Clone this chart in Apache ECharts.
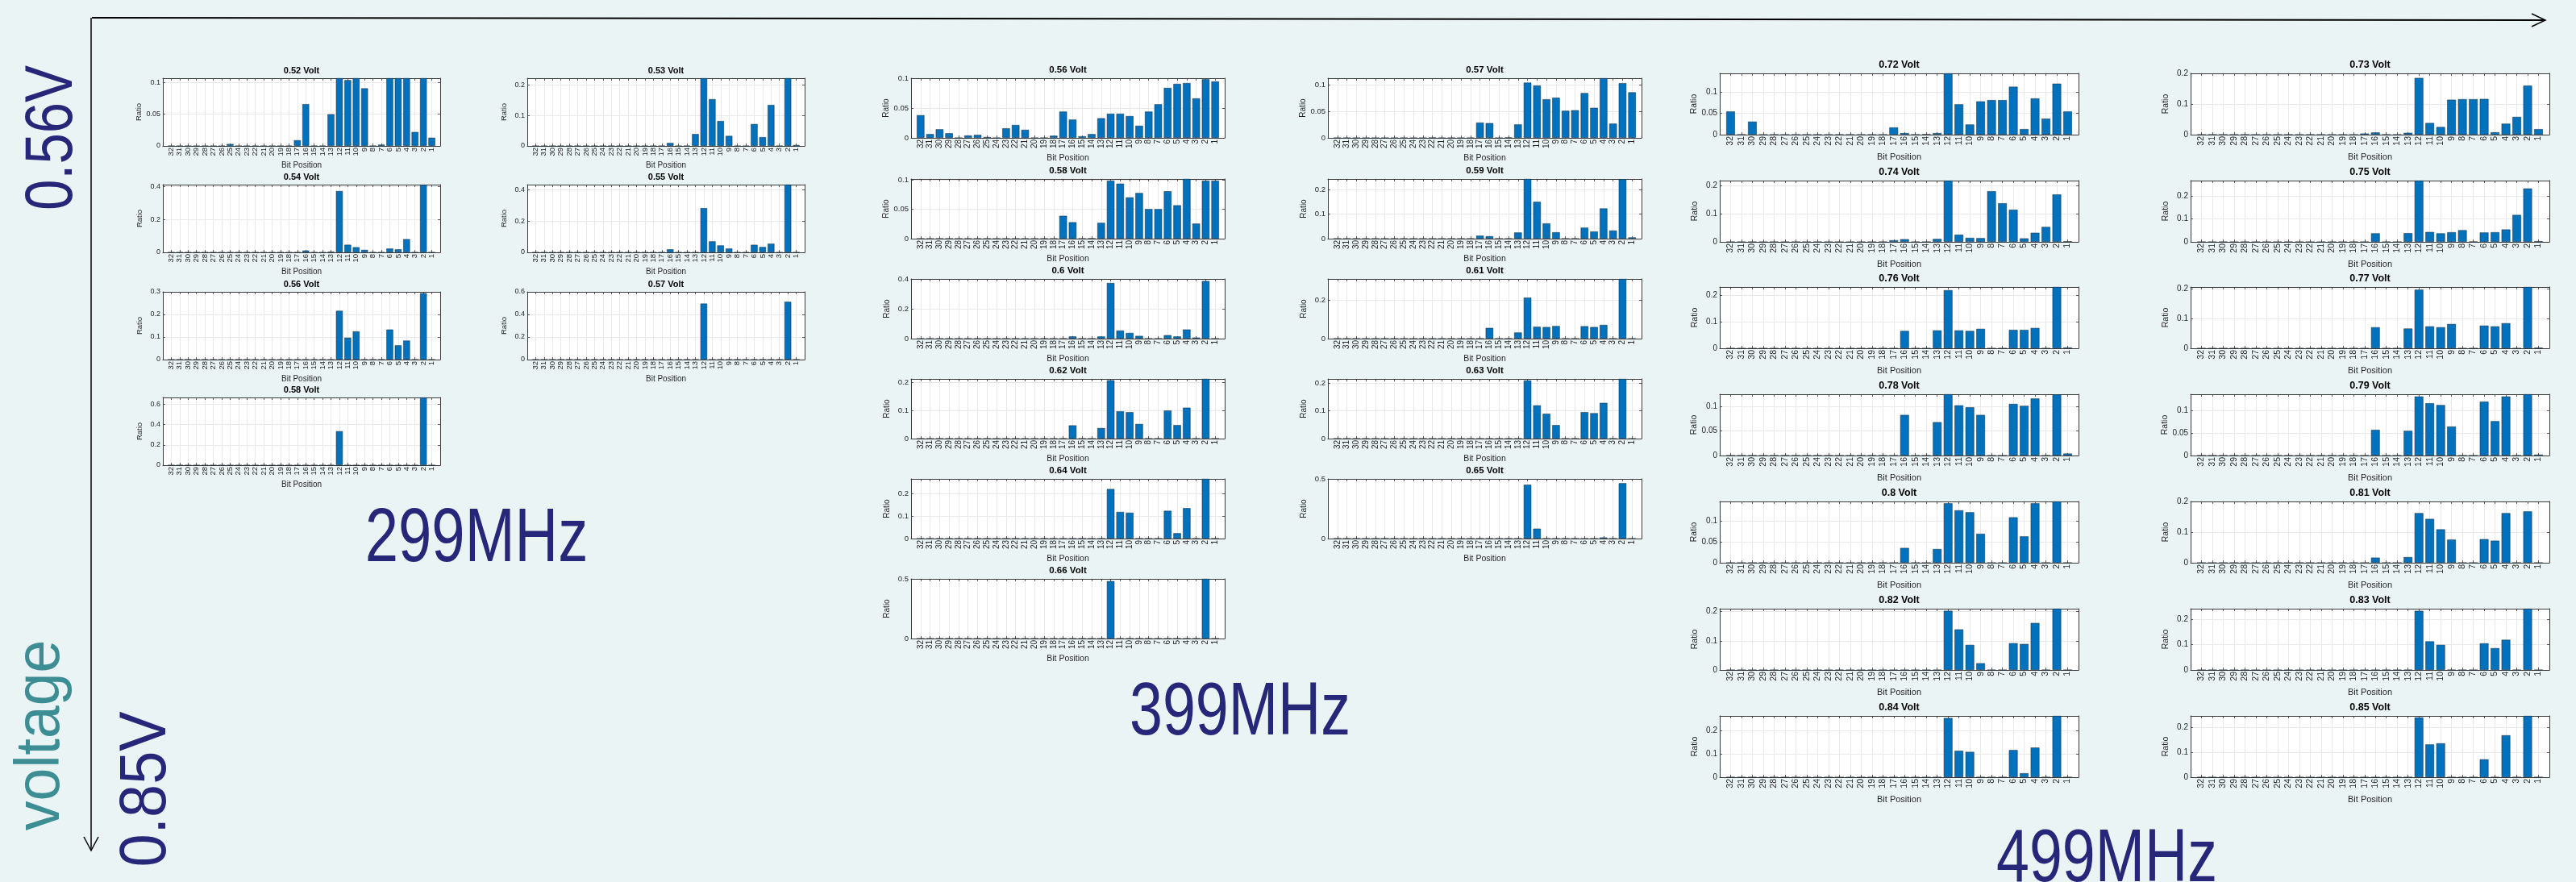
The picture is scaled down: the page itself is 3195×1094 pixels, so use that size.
<!DOCTYPE html>
<html>
<head>
<meta charset="utf-8">
<title>Bit error distribution by voltage and frequency</title>
<script src="https://cdn.jsdelivr.net/npm/echarts@6/dist/echarts.min.js"></script>
<style>
  html, body { margin: 0; padding: 0; background: #eaf4f5; }
  #chart { width: 3195px; height: 1094px; }
</style>
</head>
<body>
<div id="chart"></div>
<script>
// ---- data --------------------------------------------------------------
// x categories: bit positions, MSB (32) on the left
const bitPositions = [32,31,30,29,28,27,26,25,24,23,22,21,20,19,18,17,16,15,14,13,12,11,10,9,8,7,6,5,4,3,2,1];

// 299 MHz
const volts299 = ['0.52','0.53','0.54','0.55','0.56','0.57','0.58'];
const r299_052 = [0,0,0,0,0,0,0,0.003,0,0,0,0,0,0,0,0.009,0.066,0,0,0.05,0.107,0.104,0.107,0.091,0,0.002,0.107,0.107,0.107,0.022,0.107,0.013];
const r299_053 = [0,0,0,0,0,0,0,0,0,0,0,0,0,0,0,0,0.0097,0,0,0.039,0.223,0.154,0.082,0.033,0,0,0.072,0.029,0.135,0,0.223,0.003];
const r299_054 = [0,0,0,0,0,0,0,0,0,0,0,0,0,0,0,0,0.011,0,0,0.004,0.372,0.046,0.031,0.015,0,0,0.023,0.018,0.08,0,0.41,0];
const r299_055 = [0,0,0,0,0,0,0,0,0,0,0,0,0,0,0,0,0.019,0,0,0,0.282,0.07,0.044,0.024,0,0,0.048,0.034,0.055,0,0.432,0];
const r299_056 = [0,0,0,0,0,0,0,0,0,0,0,0,0,0,0,0,0,0,0,0,0.216,0.097,0.125,0,0,0,0.133,0.063,0.084,0,0.294,0];
const r299_057 = [0,0,0,0,0,0,0,0,0,0,0,0,0,0,0,0,0,0,0,0,0.496,0,0,0,0,0,0,0,0,0,0.512,0];
const r299_058 = [0,0,0,0,0,0,0,0,0,0,0,0,0,0,0,0,0,0,0,0,0.334,0,0,0,0,0,0,0,0,0,0.666,0];
const yMax299  = [0.107, 0.223, 0.411, 0.432, 0.3, 0.6, 0.666];
const yStep299 = [0.05, 0.1, 0.2, 0.2, 0.1, 0.2, 0.2];

// 399 MHz
const volts399 = ['0.56','0.57','0.58','0.59','0.6','0.61','0.62','0.63','0.64','0.65','0.66'];
const r399_056 = [0.038,0.0063,0.0144,0.0077,0,0.004,0.005,0.0014,0,0.016,0.0216,0.0135,0,0,0.0036,0.044,0.0306,0.0027,0.0063,0.0329,0.0405,0.0405,0.0365,0.0203,0.044,0.0563,0.0838,0.0905,0.0919,0.0662,0.0982,0.0946];
const r399_057 = [0,0,0,0,0,0,0,0,0,0,0.0006,0,0,0,0,0.0289,0.0279,0,0.0008,0.0254,0.1046,0.099,0.0731,0.0761,0.0513,0.0523,0.0848,0.0569,0.113,0.0269,0.1036,0.0863];
const r399_058 = [0,0,0,0,0,0,0,0,0,0,0,0,0,0,0,0.039,0.028,0,0.0005,0.027,0.099,0.094,0.0705,0.078,0.0505,0.0505,0.081,0.057,0.102,0.0257,0.099,0.099];
const r399_059 = [0,0,0,0,0,0,0,0,0,0,0,0,0,0,0,0.012,0.0098,0,0,0.025,0.243,0.15,0.062,0.026,0,0,0.0446,0.029,0.123,0.033,0.242,0.005];
const r399_060 = [0,0,0,0,0,0,0,0,0,0,0,0,0,0,0,0,0.0144,0,0,0.0144,0.373,0.054,0.038,0.018,0,0,0.023,0.0144,0.061,0.007,0.386,0];
const r399_061 = [0,0,0,0,0,0,0,0,0,0,0,0,0,0,0,0,0.056,0,0,0.032,0.215,0.062,0.0606,0.066,0,0,0.065,0.0606,0.072,0,0.313,0];
const r399_062 = [0,0,0,0,0,0,0,0,0,0,0,0,0,0,0,0,0.047,0,0,0.0375,0.2077,0.097,0.094,0.052,0,0,0.1,0.048,0.11,0,0.2125,0];
const r399_063 = [0,0,0,0,0,0,0,0,0,0,0,0,0,0,0,0,0,0,0,0,0.21,0.12,0.0898,0.0488,0,0,0.0956,0.0917,0.129,0,0.2156,0];
const r399_064 = [0,0,0,0,0,0,0,0,0,0,0,0,0,0,0,0,0,0,0,0,0.2214,0.119,0.1155,0,0,0,0.124,0.024,0.136,0,0.2667,0];
const r399_065 = [0,0,0,0,0,0,0,0,0,0,0,0,0,0,0,0,0,0,0,0,0.451,0.083,0,0,0,0,0,0,0.009,0,0.464,0];
const r399_066 = [0,0,0,0,0,0,0,0,0,0,0,0,0,0,0,0,0,0,0,0,0.484,0,0,0,0,0,0,0,0,0,0.503,0];
const yMax399  = [0.1, 0.113, 0.102, 0.243, 0.4, 0.313, 0.2125, 0.2156, 0.2667, 0.5, 0.503];
const yStep399 = [0.05, 0.05, 0.05, 0.1, 0.2, 0.2, 0.1, 0.1, 0.1, 0.5, 0.5];

// 499 MHz
const volts499 = ['0.72','0.73','0.74','0.75','0.76','0.77','0.78','0.79','0.8','0.81','0.82','0.83','0.84','0.85'];
const r499_072 = [0.054,0,0.0304,0,0,0,0,0,0,0,0,0,0,0,0,0.0168,0.0037,0,0.001,0.0037,0.143,0.0708,0.0236,0.0776,0.0807,0.0807,0.1118,0.013,0.0845,0.0373,0.119,0.054];
const r499_073 = [0,0,0,0,0,0,0,0,0,0,0,0,0,0,0,0.0035,0.007,0,0,0.006,0.185,0.038,0.025,0.114,0.1157,0.1157,0.1165,0.0078,0.0357,0.058,0.16,0.018];
const r499_074 = [0,0,0,0,0,0,0,0,0,0,0,0,0,0,0,0.0057,0.0095,0,0,0.0105,0.219,0.0257,0.0143,0.0133,0.181,0.138,0.115,0.0124,0.0324,0.0533,0.1695,0.002];
const r499_075 = [0,0,0,0,0,0,0,0,0,0,0,0,0,0,0,0,0.037,0,0,0.038,0.267,0.043,0.037,0.042,0.051,0.001,0.0407,0.042,0.054,0.1174,0.2326,0.003];
const r499_076 = [0,0,0,0,0,0,0,0,0,0,0,0,0,0,0,0,0.0657,0,0,0.0677,0.22,0.0677,0.0657,0.0737,0,0,0.0697,0.0697,0.0768,0,0.232,0.003];
const r499_077 = [0,0,0,0,0,0,0,0,0,0,0,0,0,0,0,0,0.071,0,0,0.0667,0.198,0.074,0.071,0.082,0,0,0.0766,0.074,0.0847,0,0.207,0.002];
const r499_078 = [0,0,0,0,0,0,0,0,0,0,0,0,0,0,0,0,0.0825,0,0,0.0678,0.1246,0.102,0.098,0.0825,0,0,0.105,0.101,0.116,0,0.124,0.004];
const r499_079 = [0,0,0,0,0,0,0,0,0,0,0,0,0,0,0,0,0.057,0,0,0.0548,0.131,0.116,0.112,0.0643,0,0,0.1196,0.0762,0.131,0,0.136,0.002];
const r499_080 = [0,0,0,0,0,0,0,0,0,0,0,0,0,0,0,0,0.0357,0,0,0.0331,0.1435,0.1266,0.122,0.07,0,0,0.1097,0.0636,0.1435,0,0.148,0];
const r499_081 = [0,0,0,0,0,0,0,0,0,0,0,0,0,0,0,0,0.0167,0,0,0.0184,0.162,0.143,0.109,0.0754,0,0,0.077,0.072,0.162,0,0.1675,0];
const r499_082 = [0,0,0,0,0,0,0,0,0,0,0,0,0,0,0,0,0,0,0,0,0.2028,0.139,0.086,0.023,0,0,0.0917,0.089,0.161,0,0.21,0];
const r499_083 = [0,0,0,0,0,0,0,0,0,0,0,0,0,0,0,0,0,0,0,0,0.233,0.1128,0.099,0,0,0,0.105,0.086,0.119,0,0.2415,0];
const r499_084 = [0,0,0,0,0,0,0,0,0,0,0,0,0,0,0,0,0,0,0,0,0.255,0.1138,0.109,0,0,0,0.117,0.017,0.1276,0,0.264,0];
const r499_085 = [0,0,0,0,0,0,0,0,0,0,0,0,0,0,0,0,0,0,0,0,0.241,0.132,0.1366,0,0,0,0.072,0,0.169,0,0.247,0];
const yMax499  = [0.143, 0.2, 0.219, 0.267, 0.232, 0.207, 0.1246, 0.136, 0.148, 0.2, 0.21, 0.2415, 0.264, 0.247];
const yStep499 = [0.05, 0.1, 0.1, 0.1, 0.1, 0.1, 0.05, 0.05, 0.05, 0.1, 0.1, 0.1, 0.1, 0.1];

// ---- layout -----------------------------------------------------------
const FONT = "'Liberation Sans', Arial, Helvetica, sans-serif";
const NAVY = '#27277a';
const TEAL = '#3c8e94';
const AXIS = '#3a3a3a';

const groups = [
  { volts: volts299, series: [r299_052, r299_053, r299_054, r299_055, r299_056, r299_057, r299_058],
    yMax: yMax299, yStep: yStep299,
    cols: [202, 654], width: 344, tops: [97, 229, 362, 493], height: 84,
    titleSize: 11, xLabelSize: 9.5, yLabelSize: 9, nameSize: 10, xNameGap: 19, yNameGap: 24 },
  { volts: volts399, series: [r399_056, r399_057, r399_058, r399_059, r399_060, r399_061, r399_062, r399_063, r399_064, r399_065, r399_066],
    yMax: yMax399, yStep: yStep399,
    cols: [1130, 1647], width: 389, tops: [97, 222, 346, 470, 594, 718], height: 74,
    titleSize: 11.5, xLabelSize: 10, yLabelSize: 9.5, nameSize: 10.5, xNameGap: 20, yNameGap: 25 },
  { volts: volts499, series: [r499_072, r499_073, r499_074, r499_075, r499_076, r499_077, r499_078, r499_079, r499_080, r499_081, r499_082, r499_083, r499_084, r499_085],
    yMax: yMax499, yStep: yStep499,
    cols: [2133, 2717], width: 445, tops: [91, 224, 356, 489, 622, 755, 888], height: 76,
    titleSize: 12.5, xLabelSize: 10.5, yLabelSize: 10, nameSize: 11, xNameGap: 22, yNameGap: 25 }
];

function isOnStep(v, step) {
  const q = v / step;
  return Math.abs(q - Math.round(q)) < 1e-6;
}
function tickText(v) {
  return String(parseFloat(v.toFixed(4)));
}

const grid = [], xAxis = [], yAxis = [], series = [];
let idx = 0;
groups.forEach(g => {
  g.volts.forEach((volt, i) => {
    const left = g.cols[i % 2];
    const top = g.tops[Math.floor(i / 2)];
    const unit = g.width / 33;
    const step = g.yStep[i];

    grid.push({ left: left, top: top, width: g.width, height: g.height,
                show: true, backgroundColor: '#ffffff', borderWidth: 0 });

    const xCommon = {
      gridIndex: idx, type: 'value', min: 0, max: 33, interval: 1, inverse: true,
      axisLine: { show: true, onZero: false, lineStyle: { color: AXIS, width: 1 } },
      axisTick: { show: true, inside: true, length: 3, lineStyle: { color: AXIS, width: 0.8 } }
    };
    // bottom axis: bit labels
    xAxis.push(Object.assign({}, xCommon, {
      position: 'bottom',
      name: 'Bit Position', nameLocation: 'middle', nameGap: g.xNameGap,
      nameTextStyle: { fontFamily: FONT, fontSize: g.nameSize, color: '#262626' },
      axisLabel: { show: true, rotate: 90, margin: 2, fontFamily: FONT, fontSize: g.xLabelSize, color: '#262626',
                   formatter: v => (v >= 1 && v <= 32) ? String(v) : '' },
      splitLine: { show: true, lineStyle: { color: '#e9e9e9', width: 1 } }
    }));
    // top axis: panel title and box edge
    xAxis.push(Object.assign({}, xCommon, {
      position: 'top',
      name: volt + ' Volt', nameLocation: 'middle', nameGap: 4,
      nameTextStyle: { fontFamily: FONT, fontSize: g.titleSize, fontWeight: 'bold', color: '#000' },
      axisLabel: { show: false },
      splitLine: { show: false }
    }));

    const yCommon = {
      gridIndex: idx, type: 'value', min: 0, max: g.yMax[i], interval: step,
      axisLine: { show: true, onZero: false, lineStyle: { color: AXIS, width: 1 } },
      axisTick: { show: true, inside: true, length: 3, lineStyle: { color: AXIS, width: 0.8 } }
    };
    yAxis.push(Object.assign({}, yCommon, {
      position: 'left',
      name: 'Ratio', nameLocation: 'middle', nameGap: g.yNameGap,
      nameTextStyle: { fontFamily: FONT, fontSize: g.nameSize - 0.5, color: '#262626' },
      axisLabel: { show: true, margin: 3, fontFamily: FONT, fontSize: g.yLabelSize, color: '#262626',
                   formatter: v => isOnStep(v, step) ? tickText(v) : '' },
      splitLine: { show: true, lineStyle: { color: '#e9e9e9', width: 1 } }
    }));
    yAxis.push(Object.assign({}, yCommon, {
      position: 'right',
      axisLabel: { show: false },
      splitLine: { show: false }
    }));

    series.push({
      type: 'bar',
      xAxisIndex: 2 * idx, yAxisIndex: 2 * idx,
      data: bitPositions.map((b, k) => [b, g.series[i][k]]),
      barWidth: unit * 0.8,
      clip: true,
      silent: true,
      itemStyle: { color: '#0072bd', borderColor: '#1e2a36', borderWidth: 0.5 }
    });
    idx++;
  });
});

// ---- frame: arrows and group labels ------------------------------------
function bigText(text, x, y, size, color, rotation, scaleX) {
  return {
    type: 'text', x: x, y: y, rotation: rotation, scaleX: scaleX, silent: true,
    style: { text: text, fontFamily: FONT, fontSize: size, fill: color,
             align: 'center', verticalAlign: 'middle' }
  };
}

const graphic = [
  { type: 'line', silent: true, shape: { x1: 114, y1: 22, x2: 3156, y2: 25 },
    style: { stroke: '#000', lineWidth: 2 } },
  { type: 'polyline', silent: true, shape: { points: [[3140, 17], [3157, 25], [3140, 33]] },
    style: { stroke: '#000', fill: null, lineWidth: 1.5 } },
  { type: 'line', silent: true, shape: { x1: 113, y1: 22, x2: 113, y2: 1055 },
    style: { stroke: '#000', lineWidth: 1.5 } },
  { type: 'polyline', silent: true, shape: { points: [[104, 1038], [113, 1055], [122, 1038]] },
    style: { stroke: '#000', fill: null, lineWidth: 1.5 } },
  bigText('0.56V', 66, 171, 84, NAVY, Math.PI / 2, 0.82),
  bigText('voltage', 51, 912, 78, TEAL, Math.PI / 2, 0.94),
  bigText('0.85V', 182, 979, 82, NAVY, Math.PI / 2, 0.9),
  bigText('299MHz', 591, 670, 94, NAVY, 0, 0.79),
  bigText('399MHz', 1538, 886, 92, NAVY, 0, 0.8),
  bigText('499MHz', 2613, 1068, 92, NAVY, 0, 0.8)
];

const chart = echarts.init(document.getElementById('chart'), null, { renderer: 'canvas' });
chart.setOption({
  backgroundColor: '#eaf4f5',
  animation: false,
  grid: grid,
  xAxis: xAxis,
  yAxis: yAxis,
  series: series,
  graphic: graphic
});
</script>
</body>
</html>
